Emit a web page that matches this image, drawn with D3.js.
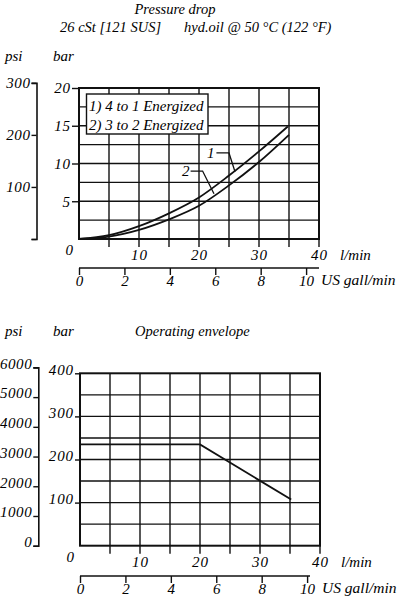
<!DOCTYPE html>
<html>
<head>
<meta charset="utf-8">
<script src="https://cdn.jsdelivr.net/npm/d3@7"></script>
<style>
  body { margin: 0; background: #fff; }
</style>
</head>
<body>
<div id="chart"></div>
<script>
// Pressure drop curves, x in l/min, y in bar
const flowLpm = [0, 5, 10, 15, 20, 25, 30, 35];
const curve1Bar = [0, 0.5, 1.7, 3.4, 5.5, 8.4, 11.6, 14.9];
const curve2Bar = [0, 0.3, 1.2, 2.6, 4.4, 7.1, 10.2, 13.8];
const curve1Flow = [0, 5, 10, 15, 20, 25, 30, 34.8];
const legendLines = ['1) 4 to 1 Energized', '2) 3 to 2 Energized'];

// Operating envelope
const envelopeFlow = [0, 20, 35.2];
const envelopeBar = [235, 235, 107];

// tick labels
const flowTicks = [10, 20, 30, 40];
const galTicks = [0, 2, 4, 6, 8, 10];
const topBarTicks = [5, 10, 15, 20];
const topPsiTicks = [0, 100, 200, 300];
const botBarTicks = [100, 200, 300, 400];
const botPsiTicks = [0, 1000, 2000, 3000, 4000, 5000, 6000];

const PSI_PER_BAR = 14.5038;
const LPM_PER_GAL = 3.785;
const FONT = '"Liberation Serif", "Times New Roman", serif';

const W = 397, H = 600;
const svg = d3.select('#chart').append('svg')
    .attr('width', W)
    .attr('height', H);

// italic serif text, like the printed sheet
function styleText(sel, size, spacing) {
    return sel
        .style('font-family', FONT)
        .style('font-style', 'italic')
        .style('font-size', size + 'px')
        .style('letter-spacing', spacing || null)
        .attr('fill', '#000');
}

function addText(parent, x, y, txt, size, anchor) {
    return styleText(parent.append('text'), size || 15)
        .attr('x', x).attr('y', y)
        .attr('text-anchor', anchor || 'start')
        .text(txt);
}

// Draw one panel of the sheet
function drawPanel(cfg) {
    const g = svg.append('g');

    const x = d3.scaleLinear().domain([0, 40]).range([cfg.x0, cfg.x1]);
    const y = d3.scaleLinear().domain([0, cfg.barMax]).range([cfg.yBot, cfg.yTop]);

    // grid
    const grid = g.append('g').attr('stroke', '#111').attr('stroke-width', 1.4);
    grid.selectAll('line.v')
        .data(d3.range(5, 40.1, 5))
        .enter().append('line')
        .attr('x1', d => x(d)).attr('x2', d => x(d))
        .attr('y1', cfg.yTop).attr('y2', cfg.yBot + 8);
    grid.selectAll('line.h')
        .data(d3.range(cfg.gridStep, cfg.barMax, cfg.gridStep))
        .enter().append('line')
        .attr('x1', cfg.x0).attr('x2', cfg.x1)
        .attr('y1', d => y(d)).attr('y2', d => y(d));

    // frame
    g.append('rect')
        .attr('x', cfg.x0).attr('y', cfg.yTop)
        .attr('width', cfg.x1 - cfg.x0).attr('height', cfg.yBot - cfg.yTop)
        .attr('fill', 'none').attr('stroke', '#111').attr('stroke-width', 2);

    // bar axis
    const barAxis = g.append('g')
        .attr('transform', `translate(${cfg.x0},0)`)
        .call(d3.axisLeft(y).tickValues(cfg.barTicks).tickSize(cfg.barTickLen).tickPadding(1));
    barAxis.select('.domain').remove();
    barAxis.selectAll('line').attr('stroke', '#111').attr('stroke-width', 1.4);
    styleText(barAxis.selectAll('text'), 15, '0.06em')
        .attr('dy', cfg.barLabelDy);

    // psi axis
    const psiMax = d3.max(cfg.psiTicks);
    const yPsi = d3.scaleLinear().domain([0, psiMax]).range([y(0), y(psiMax / PSI_PER_BAR)]);
    const psiAxis = g.append('g')
        .attr('transform', `translate(${cfg.psiX},0)`)
        .call(d3.axisLeft(yPsi).tickValues(cfg.psiTicks).tickSizeOuter(0).tickSize(5).tickPadding(1)
            .tickFormat(d => cfg.psiLabelZero || d !== 0 ? d : ''));
    psiAxis.select('.domain').attr('stroke', '#111').attr('stroke-width', 1.6);
    psiAxis.selectAll('line').attr('stroke', '#111').attr('stroke-width', 1.4);
    styleText(psiAxis.selectAll('text'), 15, '0.04em')
        .attr('dy', cfg.barLabelDy);

    // l/min labels
    const flowAxis = g.append('g')
        .attr('transform', `translate(0,${cfg.yBot})`)
        .call(d3.axisBottom(x).tickValues(flowTicks).tickSize(0));
    flowAxis.select('.domain').remove();
    styleText(flowAxis.selectAll('text'), 15, '0.06em').attr('y', 21).attr('dy', 0);
    addText(g, cfg.x0 - 6, cfg.yBot + 16, '0', 15, 'end');
    addText(g, x(40) + 21, cfg.yBot + 21, 'l/min');

    // US gall/min axis
    const xGal = d3.scaleLinear().domain([0, 40 / LPM_PER_GAL]).range([cfg.x0, cfg.x1]);
    const galAxis = g.append('g')
        .attr('transform', `translate(0,${cfg.galY})`)
        .call(d3.axisBottom(xGal).tickValues(galTicks).tickSize(7).tickSizeOuter(0));
    galAxis.select('.domain').remove();
    galAxis.append('line')
        .attr('x1', cfg.x0).attr('x2', cfg.galLineEnd)
        .attr('stroke', '#111').attr('stroke-width', 1.6);
    galAxis.selectAll('.tick line').attr('stroke', '#111').attr('stroke-width', 1.4);
    styleText(galAxis.selectAll('text'), 15).attr('y', 18).attr('dy', 0);
    addText(g, cfg.x1 + 2, cfg.galY + 17, 'US gall/min', 15.5);

    // unit headers
    addText(g, 5, cfg.headY, 'psi');
    addText(g, 53, cfg.headY, 'bar');

    return { g, x, y };
}

// ---- top panel: pressure drop
const topPanel = drawPanel({
    x0: 79, x1: 319, yTop: 88, yBot: 239,
    barMax: 20, gridStep: 2.5,
    barTicks: topBarTicks, barTickLen: 7, barLabelDy: '0.32em',
    psiTicks: topPsiTicks, psiX: 36.5, psiLabelZero: false,
    galY: 268, galLineEnd: 319, headY: 61
});

addText(svg, 175, 14, 'Pressure drop', 14.5, 'middle');
addText(svg, 60, 32, '26 cSt [121 SUS]', 14.5);
addText(svg, 184, 32, 'hyd.oil @ 50 °C (122 °F)', 14.5);

const line = d3.line()
    .x(d => topPanel.x(d[0]))
    .y(d => topPanel.y(d[1]))
    .curve(d3.curveMonotoneX);

const curves = [
    d3.zip(curve1Flow, curve1Bar),
    d3.zip(flowLpm, curve2Bar)
];
topPanel.g.selectAll('path.curve')
    .data(curves)
    .enter().append('path')
    .attr('class', 'curve')
    .attr('d', line)
    .attr('fill', 'none')
    .attr('stroke', '#111')
    .attr('stroke-width', 1.8);

// curve labels with leader lines (data coordinates)
const leaders = [
    { label: '1', at: [22.6, 10.7], pts: [[22.9, 11.4], [25, 11.4], [26, 8.9]] },
    { label: '2', at: [18.4, 8.4], pts: [[18.6, 9.0], [20.6, 9.0], [22.5, 6.0]] }
];
const leaderLine = d3.line().x(d => topPanel.x(d[0])).y(d => topPanel.y(d[1]));
leaders.forEach(l => {
    topPanel.g.append('path')
        .attr('d', leaderLine(l.pts))
        .attr('fill', 'none').attr('stroke', '#111').attr('stroke-width', 1.3);
    addText(topPanel.g, topPanel.x(l.at[0]), topPanel.y(l.at[1]), l.label, 15, 'end');
});

// legend box
const legend = topPanel.g.append('g');
legend.append('rect')
    .attr('x', 86.5).attr('y', 94)
    .attr('width', 121.5).attr('height', 40)
    .attr('fill', '#fff').attr('stroke', '#111').attr('stroke-width', 1.4);
legendLines.forEach((d, i) => addText(legend, 89, 111 + i * 18.5, d, 15));

// ---- bottom panel: operating envelope
const botPanel = drawPanel({
    x0: 80, x1: 320, yTop: 373.3, yBot: 545.7,
    barMax: 400, gridStep: 50,
    barTicks: botBarTicks, barTickLen: 5, barLabelDy: '0.05em',
    psiTicks: botPsiTicks, psiX: 38.3, psiLabelZero: true,
    galY: 576, galLineEnd: 310, headY: 336
});

addText(svg, 135, 336, 'Operating envelope', 14.5);

botPanel.g.append('path')
    .datum(d3.zip(envelopeFlow, envelopeBar))
    .attr('d', d3.line().x(d => botPanel.x(d[0])).y(d => botPanel.y(d[1])))
    .attr('fill', 'none')
    .attr('stroke', '#111')
    .attr('stroke-width', 1.8);
</script>
</body>
</html>
